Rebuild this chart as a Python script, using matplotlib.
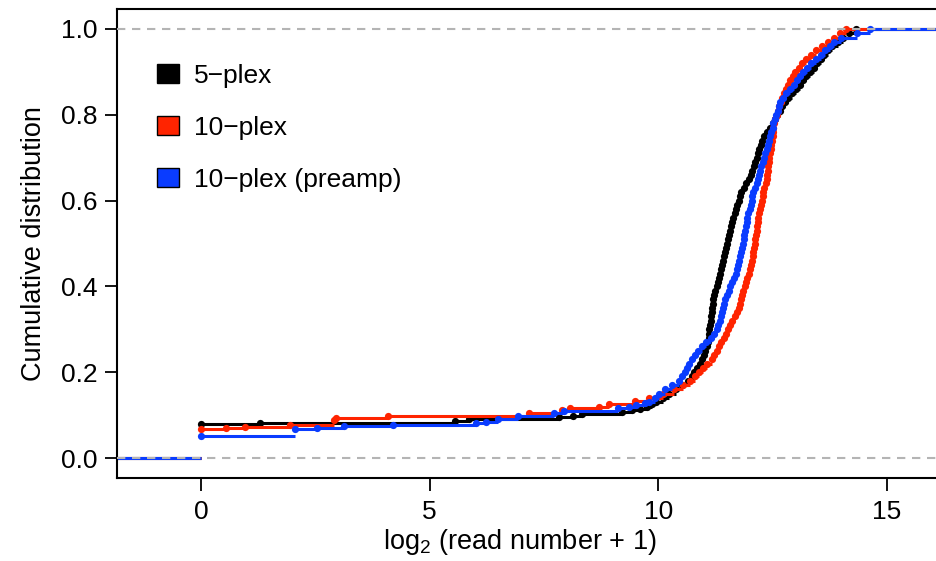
import matplotlib
matplotlib.use("Agg")
import matplotlib.pyplot as plt
from matplotlib.patches import Patch
import numpy as np

plt.rcParams['font.family'] = ['Liberation Sans', 'DejaVu Sans']
plt.rcParams['mathtext.fontset'] = 'custom'
plt.rcParams['mathtext.rm'] = 'Liberation Sans'
plt.rcParams['mathtext.it'] = 'Liberation Sans:italic'

# ---- data: ECDF step points (x = log2(read number + 1), F = cumulative proportion) ----
labels = ["5\u2212plex", "10\u2212plex", "10\u2212plex (preamp)"]
colors = ["#000000", "#FF2400", "#0A3CFF"]

black_x = [0.00, 1.29, 5.55, 5.87, 7.84, 8.13, 8.34, 9.20, 9.43, 9.60, 9.75, 9.87, 9.95,
           10.10, 10.24, 10.38, 10.52, 10.66, 10.73, 10.79, 10.85, 10.91, 10.95, 10.99,
           11.03, 11.06, 11.08, 11.10, 11.11, 11.12, 11.14, 11.15, 11.16, 11.17, 11.18,
           11.19, 11.20, 11.22, 11.25, 11.28, 11.30, 11.33, 11.36, 11.38, 11.40, 11.42,
           11.44, 11.46, 11.48, 11.50, 11.52, 11.54, 11.57, 11.59, 11.61, 11.64, 11.67,
           11.70, 11.73, 11.76, 11.79, 11.82, 11.87, 11.92, 11.98, 12.03, 12.06, 12.09,
           12.12, 12.15, 12.18, 12.21, 12.24, 12.27, 12.32, 12.38, 12.44, 12.50, 12.55,
           12.60, 12.66, 12.71, 12.77, 12.83, 12.92, 13.02, 13.10, 13.17, 13.24, 13.32,
           13.40, 13.47, 13.55, 13.63, 13.72, 13.81, 13.92, 14.04, 14.17, 14.33]
black_F = [0.079, 0.082, 0.087, 0.092, 0.096, 0.099, 0.103, 0.107, 0.111, 0.115, 0.120,
           0.125, 0.130,
           0.14, 0.15, 0.16, 0.17, 0.18, 0.19, 0.20, 0.21, 0.22, 0.23, 0.24,
           0.25, 0.26, 0.27, 0.28, 0.29, 0.30, 0.31, 0.32, 0.33, 0.34, 0.35,
           0.36, 0.37, 0.38, 0.39, 0.40, 0.41, 0.42, 0.43, 0.44, 0.45, 0.46,
           0.47, 0.48, 0.49, 0.50, 0.51, 0.52, 0.53, 0.54, 0.55, 0.56, 0.57,
           0.58, 0.59, 0.60, 0.61, 0.62, 0.63, 0.64, 0.65, 0.66, 0.67, 0.68,
           0.69, 0.70, 0.71, 0.72, 0.73, 0.74, 0.75, 0.76, 0.77, 0.78, 0.79,
           0.80, 0.81, 0.82, 0.83, 0.84, 0.85, 0.86, 0.87, 0.88, 0.89, 0.90,
           0.91, 0.92, 0.93, 0.94, 0.95, 0.96, 0.97, 0.98, 0.99, 1.00]

red_x = [0.00, 0.56, 0.96, 1.94, 2.90, 2.96, 4.09, 7.18, 7.90, 8.06, 8.71, 8.93, 9.50,
         9.80, 10.10, 10.35, 10.55, 10.70, 10.80, 10.90, 10.98, 11.07, 11.17, 11.23,
         11.28, 11.33, 11.38, 11.44, 11.48, 11.53, 11.58, 11.62, 11.67, 11.73, 11.77,
         11.78, 11.80, 11.83, 11.86, 11.89, 11.92, 11.95, 11.98, 12.01, 12.03, 12.05,
         12.07, 12.08, 12.10, 12.11, 12.12, 12.14, 12.15, 12.16, 12.18, 12.19, 12.21,
         12.23, 12.24, 12.26, 12.28, 12.30, 12.32, 12.35, 12.37, 12.38, 12.39, 12.41,
         12.42, 12.43, 12.44, 12.46, 12.47, 12.49, 12.50, 12.51, 12.52, 12.53, 12.56,
         12.59, 12.62, 12.65, 12.68, 12.71, 12.75, 12.79, 12.84, 12.89, 12.94, 12.99,
         13.07, 13.15, 13.24, 13.33, 13.45, 13.58, 13.72, 13.85, 13.98, 14.10]
red_F = [0.067, 0.069, 0.072, 0.077, 0.088, 0.093, 0.098, 0.106, 0.111, 0.116, 0.120,
         0.127, 0.132,
         0.14, 0.15, 0.16, 0.17, 0.18, 0.19, 0.20, 0.21, 0.22, 0.23, 0.24,
         0.25, 0.26, 0.27, 0.28, 0.29, 0.30, 0.31, 0.32, 0.33, 0.34, 0.35,
         0.36, 0.37, 0.38, 0.39, 0.40, 0.41, 0.42, 0.43, 0.44, 0.45, 0.46,
         0.47, 0.48, 0.49, 0.50, 0.51, 0.52, 0.53, 0.54, 0.55, 0.56, 0.57,
         0.58, 0.59, 0.60, 0.61, 0.62, 0.63, 0.64, 0.65, 0.66, 0.67, 0.68,
         0.69, 0.70, 0.71, 0.72, 0.73, 0.74, 0.75, 0.76, 0.77, 0.78, 0.79,
         0.80, 0.81, 0.82, 0.83, 0.84, 0.85, 0.86, 0.87, 0.88, 0.89, 0.90,
         0.91, 0.92, 0.93, 0.94, 0.95, 0.96, 0.97, 0.98, 0.99, 1.00]

blue_x = [0.00, 2.05, 2.53, 3.14, 4.20, 6.02, 6.24, 6.50, 6.93, 7.73, 7.95, 9.11, 9.37,
          9.51, 9.70,
          9.80, 9.92, 10.02, 10.15, 10.30, 10.45, 10.52, 10.58, 10.63, 10.68, 10.73,
          10.80, 10.88, 10.96, 11.05, 11.15, 11.23, 11.28, 11.31, 11.34, 11.37, 11.39,
          11.41, 11.43, 11.46, 11.50, 11.54, 11.57, 11.61, 11.65, 11.69, 11.72, 11.74,
          11.76, 11.79, 11.81, 11.83, 11.85, 11.87, 11.88, 11.90, 11.91, 11.93, 11.95,
          11.97, 12.00, 12.02, 12.04, 12.06, 12.08, 12.11, 12.15, 12.18, 12.20, 12.22,
          12.25, 12.28, 12.31, 12.34, 12.37, 12.40, 12.42, 12.45, 12.47, 12.50, 12.52,
          12.55, 12.58, 12.61, 12.64, 12.67, 12.72, 12.80, 12.88, 12.97, 13.04, 13.10,
          13.16, 13.25, 13.35, 13.45, 13.55, 13.65, 13.75, 13.85, 14.00, 14.35, 14.64]
blue_F = [0.051, 0.067, 0.069, 0.075, 0.078, 0.082, 0.085, 0.090, 0.098, 0.104, 0.110,
          0.116, 0.120, 0.124, 0.129,
          0.13, 0.14, 0.15, 0.16, 0.17, 0.18, 0.19, 0.20, 0.21, 0.22, 0.23,
          0.24, 0.25, 0.26, 0.27, 0.28, 0.29, 0.30, 0.31, 0.32, 0.33, 0.34,
          0.35, 0.36, 0.37, 0.38, 0.39, 0.40, 0.41, 0.42, 0.43, 0.44, 0.45,
          0.46, 0.47, 0.48, 0.49, 0.50, 0.51, 0.52, 0.53, 0.54, 0.55, 0.56,
          0.57, 0.58, 0.59, 0.60, 0.61, 0.62, 0.63, 0.64, 0.65, 0.66, 0.67,
          0.68, 0.69, 0.70, 0.71, 0.72, 0.73, 0.74, 0.75, 0.76, 0.77, 0.78,
          0.79, 0.80, 0.81, 0.82, 0.83, 0.84, 0.85, 0.86, 0.87, 0.88, 0.89,
          0.90, 0.91, 0.92, 0.93, 0.94, 0.95, 0.96, 0.97, 0.98, 0.99, 1.00]

series = [(black_x, black_F), (red_x, red_F), (blue_x, blue_F)]

x_ticks = [0, 5, 10, 15]
y_ticks = [0.0, 0.2, 0.4, 0.6, 0.8, 1.0]

# ---- figure ----
W, H, DPI = 937, 561, 100
fig = plt.figure(figsize=(W / DPI, H / DPI), dpi=DPI)
ax = fig.add_axes([117 / W, 83 / H, (W - 117) / W + 0.01, (478 - 9) / H])

XMIN, XMAX = -1.834, 16.3
ax.set_xlim(XMIN, XMAX)
ax.set_ylim(-0.0466, 1.0466)

for (xs, Fs), c in zip(series, colors):
    xs = np.asarray(xs)
    Fs = np.asarray(Fs)
    ax.hlines(0, XMIN, xs[0], color=c, lw=2.2, zorder=2)
    ax.hlines(Fs[:-1], xs[:-1], xs[1:], color=c, lw=2.2, zorder=2)
    ax.hlines(Fs[-1], xs[-1], XMAX, color=c, lw=2.2, zorder=2)
    ax.plot(xs, Fs, 'o', color=c, ms=5.2, mec='none', zorder=2)

for yv in (0, 1):
    ax.axhline(yv, color='#B4B4B4', lw=1.5, dashes=(4, 3.2), zorder=3)

ax.set_xticks(x_ticks)
ax.set_xticklabels([str(t) for t in x_ticks])
ax.set_yticks(y_ticks)
ax.set_yticklabels([f"{t:.1f}" for t in y_ticks])
ax.tick_params(axis='both', direction='out', length=9, width=1.3, labelsize=19,
               colors='black', pad=5)
ax.tick_params(axis='x', pad=7)
for side in ('left', 'bottom', 'top'):
    ax.spines[side].set_linewidth(1.5)
ax.spines['right'].set_visible(False)

ax.set_xlabel("log$_2$ (read number + 1)", fontsize=19.5, labelpad=0)
ax.xaxis.set_label_coords(0.486, -0.105)
ax.set_ylabel("Cumulative distribution", fontsize=19.5, labelpad=10)

handles = [Patch(facecolor=c, edgecolor='black', lw=1.0) for c in colors]
ax.legend(handles, labels, loc='upper left', bbox_to_anchor=(0.036, 0.905),
          frameon=False, fontsize=19, handlelength=0.83, handleheight=0.72,
          handletextpad=0.55, labelspacing=1.05, borderaxespad=0)

fig.savefig("out.png", dpi=DPI)
